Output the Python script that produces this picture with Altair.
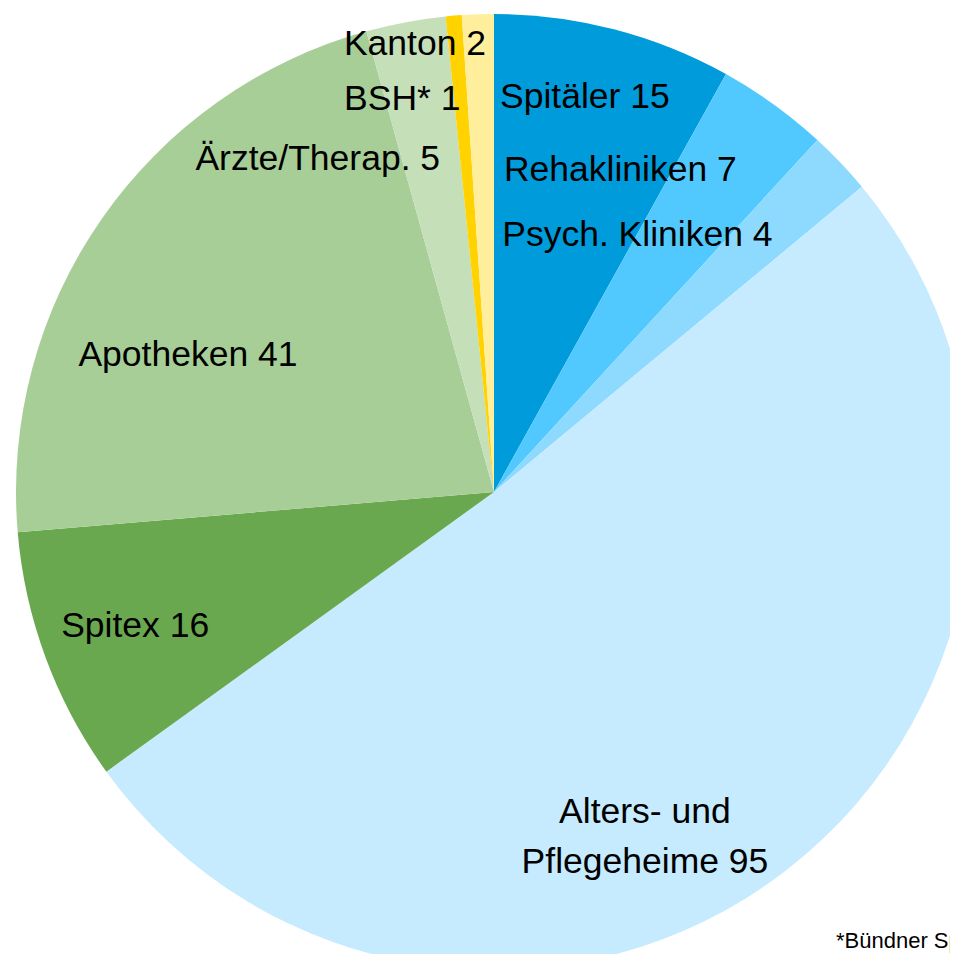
import math
import altair as alt
import pandas as pd

# ---- data ----
categories = ["Spitäler", "Rehakliniken", "Psych. Kliniken", "Alters- und Pflegeheime",
              "Spitex", "Apotheken", "Ärzte/Therap.", "BSH*", "Kanton"]
values = [15, 7, 4, 95, 16, 41, 5, 1, 2]
labels = ["Spitäler 15", "Rehakliniken 7", "Psych. Kliniken 4", ["Alters- und", "Pflegeheime 95"],
          "Spitex 16", "Apotheken 41", "Ärzte/Therap. 5", "BSH* 1", "Kanton 2"]
colors = ["#009BDB", "#52C9FE", "#8DDAFE", "#C6EBFE", "#6AA84F",
          "#A8CE98", "#C5DFB9", "#FFD200", "#FFEE9C"]
footnote = "*Bündner Spital- und Heimverband"

# ---- layout (label anchors, polar: degrees clockwise from north, pixel radius) ----
label_angle_deg = [13.3, 22.1, 30.2, 155.5, 248.0, 292.4, 331.3, 346.5, 349.75]
label_radius = [395, 336, 285, 364, 387, 331, 367, 393, 444]

W, H = 942, 946
CX, CY, R = 486, 484, 478
FONT = "Liberation Sans Narrow, Arial Narrow, Liberation Sans, Arial, sans-serif"

df = pd.DataFrame({
    "category": categories,
    "value": values,
    "order": list(range(len(categories))),
})
lab = pd.DataFrame({
    "label": labels,
    "theta": [math.radians(a) for a in label_angle_deg],
    "r": label_radius,
})

pie = alt.Chart(df).mark_arc(radius=R, clip=True).encode(
    theta=alt.Theta("value:Q", stack=True),
    color=alt.Color("category:N", scale=alt.Scale(domain=categories, range=colors), legend=None),
    order=alt.Order("order:Q"),
    x=alt.value(CX),
    y=alt.value(CY),
)

text = alt.Chart(lab).mark_text(
    font=FONT, fontSize=35.5, color="black", align="center", baseline="alphabetic", lineHeight=50
).encode(
    text="label",
    theta=alt.Theta("theta:Q", scale=None, stack=None),
    radius=alt.Radius("r:Q", scale=None),
    x=alt.value(CX),
    y=alt.value(CY),
)

note = alt.Chart(pd.DataFrame({"t": [footnote]})).mark_text(
    font=FONT, fontSize=22, color="black", align="left", baseline="alphabetic"
).encode(
    text="t:N",
    x=alt.value(828),
    y=alt.value(940),
)

chart = alt.layer(pie, text, note).properties(
    width=W, height=H, autosize=alt.AutoSizeParams(type="none"), padding=0
).configure_view(stroke=None)

chart.save("out.html", embed_options={"renderer": "svg", "actions": False})
